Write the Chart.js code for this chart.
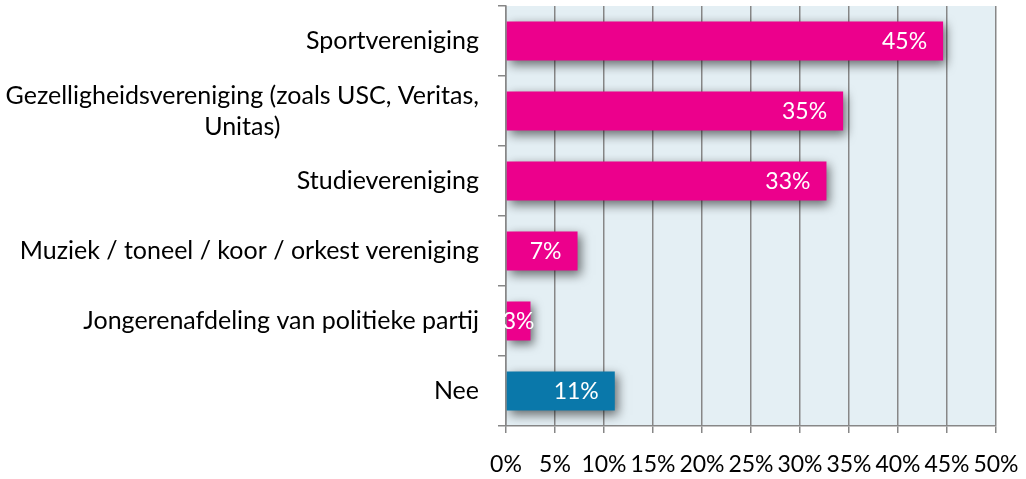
<!DOCTYPE html>
<html>
<head>
<meta charset="utf-8">
<script src="https://cdn.jsdelivr.net/npm/chart.js@4.4.1/dist/chart.umd.min.js"></script>
<style>
  html, body { margin: 0; padding: 0; background: #fff; }
  #wrap { width: 1026px; height: 479px; position: relative; }
</style>
</head>
<body>
<div id="wrap"><canvas id="chart"></canvas></div>
<script>
// data
const categories = [
    ['Sportvereniging'],
    ['Gezelligheidsvereniging (zoals USC, Veritas,', 'Unitas)'],
    ['Studievereniging'],
    ['Muziek / toneel / koor / orkest vereniging'],
    ['Jongerenafdeling van politieke partij'],
    ['Nee']
];
const values = [44.6, 34.4, 32.7, 7.3, 2.5, 11.1];
const valueLabels = ['45%', '35%', '33%', '7%', '3%', '11%'];
const xTicks = [0, 5, 10, 15, 20, 25, 30, 35, 40, 45, 50];

const PINK = '#ec008c';
const BLUE = '#0a78aa';
const GRID = '#878787';
const FONT = 'Lato, "Open Sans", sans-serif';

// achtergrond van het plotgebied
const plotBg = {
    id: 'plotBg',
    beforeDraw(chart) {
        const { ctx, chartArea: a } = chart;
        ctx.save();
        ctx.fillStyle = '#e4eff4';
        ctx.fillRect(a.left, a.top, a.right - a.left, a.bottom - a.top);
        ctx.restore();
    }
};

// schaduw onder de balken + waardelabels
const barDecor = {
    id: 'barDecor',
    beforeDatasetsDraw(chart) {
        const ctx = chart.ctx;
        ctx.save();
        ctx.shadowColor = 'rgba(0,0,0,0.55)';
        ctx.shadowBlur = 10;
        ctx.shadowOffsetX = 3;
        ctx.shadowOffsetY = 4;
    },
    afterDatasetsDraw(chart) {
        const ctx = chart.ctx;
        ctx.restore();
        ctx.save();
        ctx.font = '23px ' + FONT;
        ctx.fillStyle = '#fff';
        ctx.textBaseline = 'middle';
        chart.getDatasetMeta(0).data.forEach((bar, i) => {
            const txt = valueLabels[i];
            const w = ctx.measureText(txt).width;
            const barW = bar.x - bar.base;
            let x;
            if (w + 30 < barW) {
                x = bar.x - 16 - w;
            } else {
                x = bar.base + (barW - w) / 2;
            }
            ctx.fillText(txt, x, bar.y + 1);
        });
        ctx.restore();
    }
};

// categorie-labels links (meerdere regels gecentreerd t.o.v. elkaar)
const catLabels = {
    id: 'catLabels',
    afterDraw(chart) {
        const ctx = chart.ctx;
        const yScale = chart.scales.y;
        const right = 479;
        const lineH = 31;
        ctx.save();
        ctx.font = '25px ' + FONT;
        ctx.fillStyle = '#000';
        ctx.textBaseline = 'middle';
        ctx.textAlign = 'center';
        categories.forEach((lines, i) => {
            const cy = yScale.getPixelForValue(i);
            const blockW = Math.max(...lines.map(l => ctx.measureText(l).width));
            const cx = right - blockW / 2;
            lines.forEach((l, j) => {
                const y = cy + (j - (lines.length - 1) / 2) * lineH;
                ctx.fillText(l, cx, y);
            });
        });
        ctx.restore();
    }
};

new Chart(document.getElementById('chart'), {
    type: 'bar',
    data: {
        labels: categories.map(c => c.join(' ')),
        datasets: [{
            data: values,
            backgroundColor: ctx => ctx.dataIndex === categories.length - 1 ? BLUE : PINK,
            borderWidth: 0,
            categoryPercentage: 1,
            barPercentage: 0.56
        }]
    },
    options: {
        indexAxis: 'y',
        responsive: true,
        maintainAspectRatio: false,
        animation: false,
        layout: { padding: { top: 6, right: 30, left: 0, bottom: 0 } },
        plugins: {
            legend: { display: false },
            tooltip: { enabled: false }
        },
        scales: {
            x: {
                min: 0,
                max: 50,
                afterBuildTicks: scale => { scale.ticks = xTicks.map(v => ({ value: v })); },
                afterFit: scale => {
                    scale.height = 53;
                    scale.paddingLeft = 0;
                    scale.paddingRight = 0;
                },
                ticks: {
                    callback: v => v + '%',
                    color: '#000',
                    font: { family: FONT, size: 23 },
                    padding: 18,
                    maxRotation: 0,
                    autoSkip: false
                },
                grid: { color: GRID, lineWidth: 1.5, tickLength: 7 },
                border: { color: GRID, width: 1.5 }
            },
            y: {
                afterFit: scale => { scale.width = 506; },
                ticks: { display: false },
                grid: {
                    offset: true,
                    drawOnChartArea: false,
                    color: GRID,
                    lineWidth: 1.5,
                    tickLength: 8
                },
                border: { color: GRID, width: 1.5 }
            }
        }
    },
    plugins: [plotBg, barDecor, catLabels]
});
</script>
</body>
</html>
